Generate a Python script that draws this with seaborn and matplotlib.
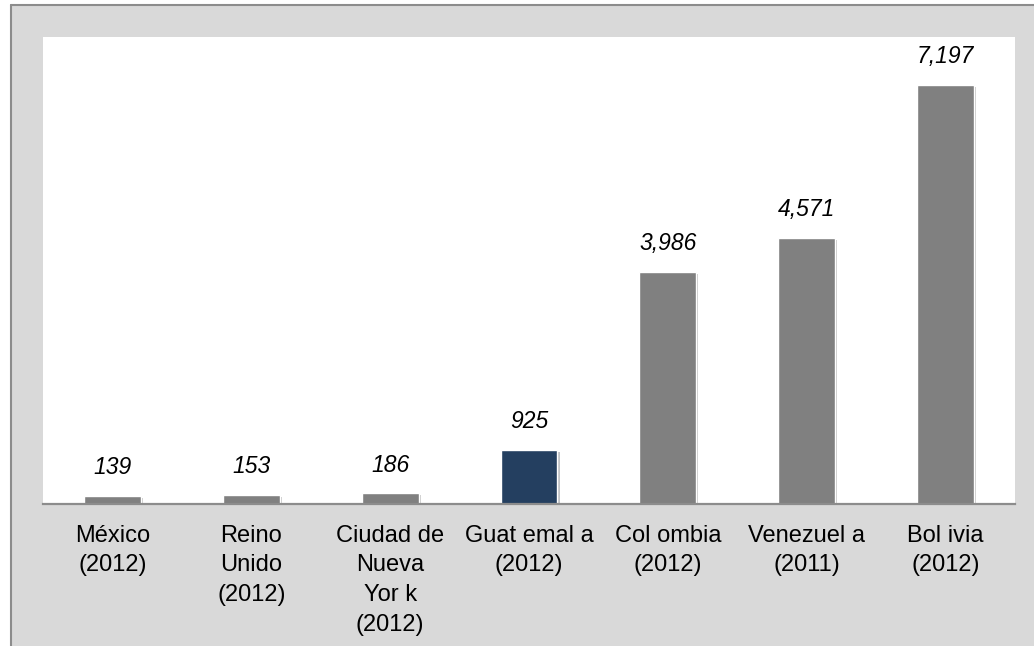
import matplotlib
matplotlib.use("Agg")
import matplotlib.pyplot as plt
import matplotlib.patheffects as pe
from matplotlib.lines import Line2D
from matplotlib.patches import Rectangle
import pandas as pd
import seaborn as sns


# ======================================================
# Data
# ======================================================

categories = [
    "México\n(2012)",
    "Reino\nUnido\n(2012)",
    "Ciudad de\nNueva\nYor k\n(2012)",
    "Guat emal a\n(2012)",
    "Col ombia\n(2012)",
    "Venezuel a\n(2011)",
    "Bol ivia\n(2012)",
]
values = [139, 153, 186, 925, 3986, 4571, 7197]
bar_colors = ["#808080", "#808080", "#808080", "#243f60", "#808080", "#808080", "#808080"]

df = pd.DataFrame({"lugar": categories, "valor": values})


# ======================================================
# Figure / frame
# ======================================================

sns.set_style("white")
plt.rcParams["font.family"] = ["Liberation Sans", "DejaVu Sans"]

W, H = 1034, 646
fig = plt.figure(figsize=(W / 100, H / 100), dpi=100)
fig.patch.set_facecolor("white")

# grey outer frame with left and top border (behind the axes)
fig.patches.append(Rectangle((11 / W, 0), 1, (H - 5) / H, transform=fig.transFigure,
                             facecolor="#d9d9d9", edgecolor="none", zorder=-5))
fig.lines.append(Line2D([10.5 / W, 10.5 / W], [0, (H - 4.5) / H], transform=fig.transFigure,
                        color="#8c8c8c", linewidth=1.5, zorder=-4))
fig.lines.append(Line2D([10.5 / W, 1], [(H - 4.5) / H, (H - 4.5) / H], transform=fig.transFigure,
                        color="#8c8c8c", linewidth=1.5, zorder=-4))

ax = fig.add_axes([43 / W, (H - 504) / H, (1015 - 43) / W, (504 - 37) / H])
ax.set_facecolor("white")


# ======================================================
# Bars
# ======================================================

sns.barplot(data=df, x="lugar", y="valor", hue="lugar", palette=bar_colors,
            legend=False, width=0.41, saturation=1, ax=ax)

shadow = [pe.SimplePatchShadow(offset=(1.5, -1.5), alpha=0.25), pe.Normal()]
for bar in ax.patches:
    bar.set_path_effects(shadow)

for cont in ax.containers:
    ax.bar_label(cont, labels=[f"{v:,.0f}" for v in cont.datavalues], padding=12,
                 fontsize=16.5, fontstyle="italic", color="black")

ax.set_ylim(0, 8020)
ax.set_xlim(-0.5, len(categories) - 0.5)
ax.set_xlabel("")
ax.set_ylabel("")
ax.set_yticks([])

for side in ["top", "left", "right"]:
    ax.spines[side].set_visible(False)
ax.spines["bottom"].set_color("#8c8c8c")
ax.spines["bottom"].set_linewidth(1.6)

ax.tick_params(axis="x", length=0, pad=15, labelsize=17, labelcolor="black")
for lbl in ax.get_xticklabels():
    lbl.set_linespacing(1.45)

fig.savefig("out.png", dpi=100, facecolor=fig.get_facecolor())
